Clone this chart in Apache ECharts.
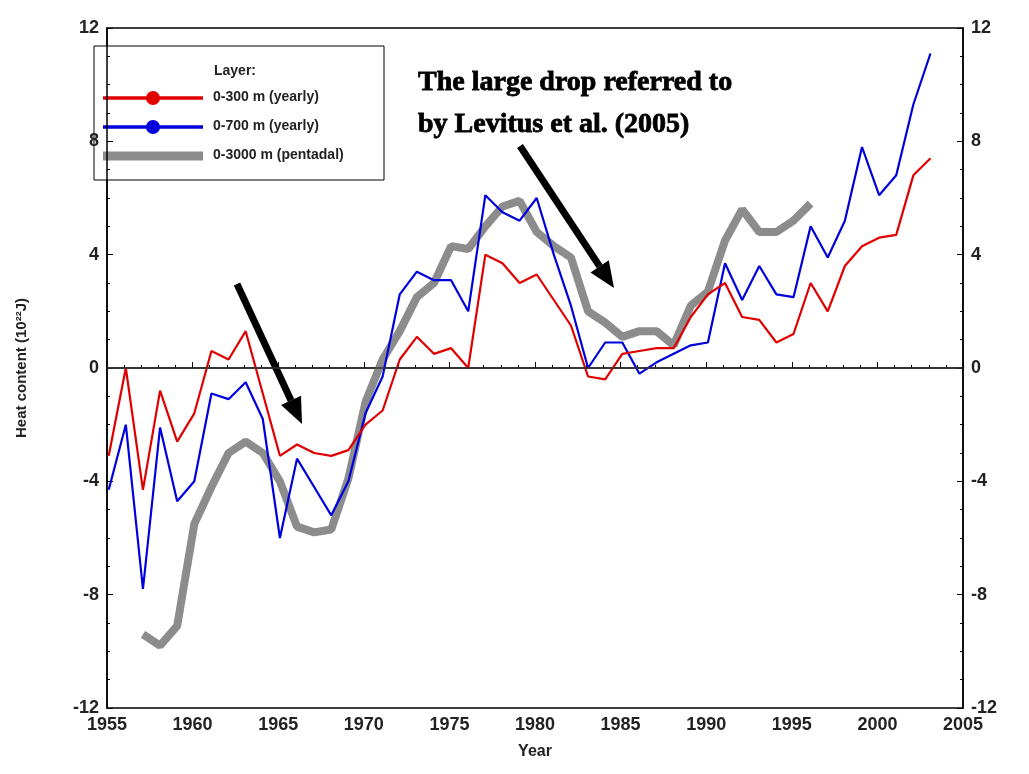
<!DOCTYPE html>
<html lang="en">
  <head>
    <meta charset="UTF-8" />
    <title>Heat content</title>
    <script src="https://cdn.jsdelivr.net/npm/echarts@6/dist/echarts.min.js"></script>
    <style>body{margin:0;background:#fff}</style>
  </head>
  <body>
    <div id="main" style="width: 1029px; height: 774px"></div>
    <script>
      const yearsYearly = [];
      for (let y = 1955; y <= 2003; y++) yearsYearly.push(y + 0.1);
      const yearsPentadal = [];
      for (let y = 1957; y <= 1996; y++) yearsPentadal.push(y + 0.1);

      const layer300 = [-3.1, 0, -4.3, -0.8, -2.6, -1.6, 0.6, 0.3, 1.3, -0.9,
        -3.1, -2.7, -3.0, -3.1, -2.9, -2.0, -1.5, 0.3, 1.1, 0.5,
        0.7, 0.0, 4.0, 3.7, 3.0, 3.3, 2.4, 1.5, -0.3, -0.4,
        0.5, 0.6, 0.7, 0.7, 1.8, 2.6, 3.0, 1.8, 1.7, 0.9,
        1.2, 3.0, 2.0, 3.6, 4.3, 4.6, 4.7, 6.8, 7.4];
      const layer700 = [-4.3, -2.0, -7.8, -2.1, -4.7, -4.0, -0.9, -1.1, -0.5, -1.8,
        -6.0, -3.2, -4.2, -5.2, -4.0, -1.6, -0.3, 2.6, 3.4, 3.1,
        3.1, 2.0, 6.1, 5.5, 5.2, 6.0, 4.0, 2.2, 0.0, 0.9,
        0.9, -0.2, 0.2, 0.5, 0.8, 0.9, 3.7, 2.4, 3.6, 2.6,
        2.5, 5.0, 3.9, 5.2, 7.8, 6.1, 6.8, 9.3, 11.1];
      const layer3000 = [-9.4, -9.8, -9.1, -5.5, -4.2, -3.0, -2.6, -3.0, -4.0, -5.6,
        -5.8, -5.7, -3.9, -1.2, 0.3, 1.3, 2.5, 3.0, 4.3, 4.2,
        5.0, 5.7, 5.9, 4.8, 4.3, 3.9, 2.0, 1.6, 1.1, 1.3,
        1.3, 0.8, 2.2, 2.7, 4.5, 5.6, 4.8, 4.8, 5.2, 5.8];

      const legendNames = ['0-300 m (yearly)', '0-700 m (yearly)', '0-3000 m (pentadal)'];
      const legendColors = ['#e00000', '#0000dd', '#8c8c8c'];

      const pair = (xs, vs) => xs.map((x, i) => [x, vs[i]]);
      const font = 'Liberation Sans';
      const axisLabel = { fontFamily: font, fontWeight: 'bold', fontSize: 18, color: '#222' };

      function arrow(x1, y1, x2, y2) {
        const a = Math.atan2(y2 - y1, x2 - x1);
        const L = 26, W = 11;
        const bx = x2 - L * Math.cos(a), by = y2 - L * Math.sin(a);
        return [
          { type: 'line', shape: { x1: x1, y1: y1, x2: bx, y2: by }, style: { stroke: '#000', lineWidth: 7 } },
          { type: 'polygon', shape: { points: [[x2, y2],
            [bx + W * Math.sin(a), by - W * Math.cos(a)],
            [bx - W * Math.sin(a), by + W * Math.cos(a)]] }, style: { fill: '#000' } }
        ];
      }

      const legendItems = [];
      legendNames.forEach((n, i) => {
        const y = 98 + i * 29;
        legendItems.push({ type: 'line', shape: { x1: 103, y1: y, x2: 203, y2: y },
          style: { stroke: legendColors[i], lineWidth: i === 2 ? 9 : 3.5 } });
        if (i < 2) legendItems.push({ type: 'circle', shape: { cx: 153, cy: y, r: 7 }, style: { fill: legendColors[i] } });
        legendItems.push({ type: 'text', x: 213, y: y - 8, style: { text: n, fontFamily: font, fontWeight: 'bold', fontSize: 14, fill: '#222' } });
      });

      const tickStyle = { inside: true, length: 6, lineStyle: { color: '#000' } };
      const lineStyle = { show: true, lineStyle: { color: '#000', width: 1.5 } };

      const chart = echarts.init(document.getElementById('main'));
      chart.setOption({
        animation: false,
        grid: { left: 107, right: 66, top: 28, bottom: 66, show: true, borderColor: '#000', borderWidth: 1.5 },
        xAxis: {
          type: 'value', min: 1955, max: 2005, interval: 5,
          name: 'Year', nameLocation: 'middle', nameGap: 36,
          nameTextStyle: { fontFamily: font, fontWeight: 'bold', fontSize: 16, color: '#222' },
          axisLine: lineStyle, axisTick: tickStyle,
          minorTick: { show: true, splitNumber: 5, length: 3, lineStyle: { color: '#000' } },
          axisLabel: Object.assign({ formatter: v => String(v) }, axisLabel), splitLine: { show: false }
        },
        yAxis: [
          {
            type: 'value', min: -12, max: 12, interval: 4,
            name: 'Heat content (10²²J)', nameLocation: 'middle', nameGap: 78,
            nameTextStyle: { fontFamily: font, fontWeight: 'bold', fontSize: 15, color: '#222' },
            axisLine: lineStyle, axisTick: tickStyle,
            minorTick: { show: true, splitNumber: 4, length: 3, lineStyle: { color: '#000' } },
            axisLabel: axisLabel, splitLine: { show: false }
          },
          {
            type: 'value', min: -12, max: 12, interval: 4, position: 'right',
            axisLine: lineStyle, axisTick: tickStyle,
            minorTick: { show: true, splitNumber: 4, length: 3, lineStyle: { color: '#000' } },
            axisLabel: axisLabel, splitLine: { show: false }
          }
        ],
        series: [
          {
            name: legendNames[2], type: 'line', data: pair(yearsPentadal, layer3000),
            symbol: 'none', lineStyle: { color: legendColors[2], width: 8 }, z: 1
          },
          {
            name: legendNames[0], type: 'line', data: pair(yearsYearly, layer300),
            symbol: 'none', lineStyle: { color: legendColors[0], width: 2.2 }, z: 3,
            markLine: {
              silent: true, symbol: 'none', label: { show: false },
              lineStyle: { color: '#333', type: 'solid', width: 1.5 }, data: [{ yAxis: 0 }]
            }
          },
          {
            name: legendNames[1], type: 'line', data: pair(yearsYearly, layer700),
            symbol: 'none', lineStyle: { color: legendColors[1], width: 2.2 }, z: 2
          }
        ],
        graphic: [
          { type: 'rect', shape: { x: 94, y: 46, width: 290, height: 134 }, style: { fill: '#fff', stroke: '#000', lineWidth: 1 } },
          { type: 'text', x: 214, y: 64, style: { text: 'Layer:', fontFamily: font, fontWeight: 'bold', fontSize: 14, fill: '#222' } },
          ...legendItems,
          { type: 'text', x: 418, y: 62, style: { text: 'The large drop referred to\nby Levitus et al. (2005)', fontFamily: 'Liberation Serif', fontWeight: 900, fontSize: 28, lineHeight: 42, fill: '#000', stroke: '#000', lineWidth: 0.8 } },
          ...arrow(237, 284, 302, 424),
          ...arrow(520, 146, 614, 288)
        ]
      });
    </script>
  </body>
</html>
